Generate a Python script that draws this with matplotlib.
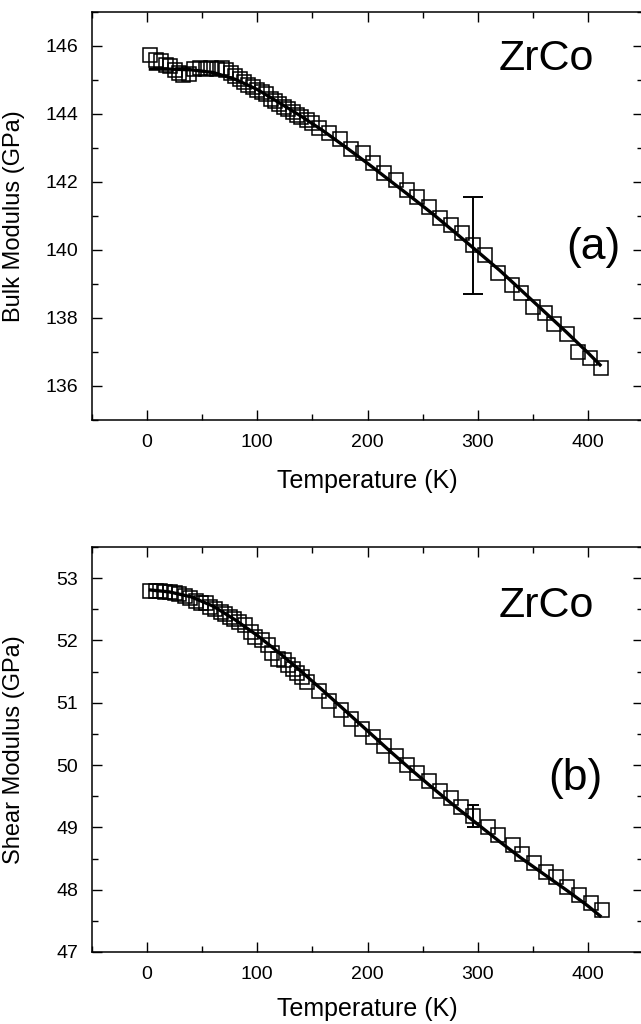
import matplotlib
matplotlib.use("Agg")
import matplotlib.pyplot as plt
from matplotlib.ticker import MultipleLocator

plt.rcParams['font.family'] = ['Liberation Sans', 'DejaVu Sans']

# (a) bulk modulus, measured points
T_bulk = [3, 8, 13, 17, 21, 25, 29, 33, 38, 43, 48, 53, 58, 63, 68, 72, 76, 80,
          84, 88, 92, 96, 100, 104, 108, 112, 116, 120, 124, 128, 132, 136, 140,
          145, 150, 156, 165, 175, 185, 196, 205, 215, 226, 236, 245, 256, 266,
          276, 286, 296, 307, 318, 331, 339, 350, 361, 369, 381, 391, 402, 412]
B_bulk = [145.75, 145.6, 145.55, 145.45, 145.4, 145.3, 145.2, 145.15, 145.18,
          145.32, 145.35, 145.33, 145.35, 145.33, 145.35, 145.3, 145.22, 145.12,
          145.02, 144.95, 144.85, 144.78, 144.72, 144.65, 144.58, 144.45, 144.38,
          144.3, 144.2, 144.15, 144.05, 143.98, 143.9, 143.82, 143.75, 143.6,
          143.45, 143.26, 142.96, 142.84, 142.55, 142.26, 142.06, 141.76, 141.57,
          141.27, 140.94, 140.74, 140.5, 140.15, 139.85, 139.33, 138.97, 138.74,
          138.33, 138.14, 137.82, 137.53, 137.0, 136.81, 136.52]

# (a) fit curve
T_bulk_fit = [3, 20, 40, 60, 80, 100, 120, 140, 160, 180, 200, 220, 240, 260,
              280, 300, 320, 340, 360, 380, 400, 411]
B_bulk_fit = [145.32, 145.32, 145.3, 145.22, 145.02, 144.72, 144.33, 143.93,
              143.5, 143.03, 142.55, 142.05, 141.55, 141.04, 140.5, 139.95,
              139.4, 138.8, 138.2, 137.6, 136.98, 136.62]

# (b) shear modulus, measured points
T_shear = [3, 8, 12, 16, 21, 25, 29, 34, 39, 44, 49, 53, 57, 62, 67, 71, 75, 79,
           83, 89, 94, 98, 104, 110, 113, 119, 124, 128, 132, 136, 141, 145,
           156, 165, 176, 185, 195, 205, 215, 226, 236, 245, 256, 266, 276, 285,
           296, 309, 318, 332, 340, 351, 362, 371, 381, 392, 403, 413]
G_shear = [52.79, 52.79, 52.79, 52.78, 52.77, 52.76, 52.74, 52.71, 52.68, 52.64,
           52.6, 52.6, 52.54, 52.5, 52.46, 52.42, 52.38, 52.34, 52.3, 52.25,
           52.14, 52.06, 52.0, 51.93, 51.8, 51.71, 51.68, 51.6, 51.55, 51.48,
           51.41, 51.33, 51.19, 51.03, 50.89, 50.74, 50.58, 50.45, 50.3, 50.15,
           50.0, 49.87, 49.74, 49.59, 49.47, 49.32, 49.18, 49.01, 48.87, 48.71,
           48.58, 48.43, 48.29, 48.2, 48.05, 47.91, 47.78, 47.67]

# (b) fit curve
T_shear_fit = [3, 20, 40, 60, 80, 100, 120, 140, 160, 180, 200, 220, 240, 260,
               280, 300, 320, 340, 360, 380, 400, 411]
G_shear_fit = [52.81, 52.78, 52.7, 52.55, 52.33, 52.08, 51.8, 51.5, 51.19,
               50.87, 50.55, 50.23, 49.92, 49.62, 49.33, 49.05, 48.77, 48.5,
               48.25, 48.0, 47.74, 47.58]

# representative error bars at room temperature
err_T = 296
err_bulk = (138.72, 140.13, 141.55)   # low, centre, high
err_shear = (49.01, 49.18, 49.36)

fig = plt.figure(figsize=(6.41, 10.24), dpi=100)
ax1 = fig.add_axes([92 / 641, 1 - 420 / 1024, 551 / 641, 408 / 1024])
ax2 = fig.add_axes([92 / 641, 1 - 952 / 1024, 551 / 641, 405 / 1024])

panels = [
    (ax1, T_bulk, B_bulk, T_bulk_fit, B_bulk_fit, err_bulk, (135, 147), 2, 1,
     "Bulk Modulus (GPa)", (362, 145.62), (405, 140.06), "(a)", 7, -0.12),
    (ax2, T_shear, G_shear, T_shear_fit, G_shear_fit, err_shear, (47, 53.5), 1, 0.5,
     "Shear Modulus (GPa)", (362, 52.56), (389, 49.79), "(b)", 4.5, -0.112),
]

for ax, t, v, tf, vf, err, ylim, ymaj, ymin, ylab, pos_name, pos_tag, tag, cap, xl_y in panels:
    ax.plot(t, v, ls='none', marker='s', ms=9.5, mfc='none', mec='black', mew=1.1)
    ax.plot(tf, vf, color='black', lw=2.4)
    lo, mid, hi = err
    ax.errorbar([err_T], [mid], yerr=[[mid - lo], [hi - mid]], fmt='none',
                ecolor='black', elinewidth=1.4, capsize=cap, capthick=1.4)

    ax.set_xlim(-50, 450)
    ax.set_ylim(*ylim)
    ax.xaxis.set_major_locator(MultipleLocator(100))
    ax.xaxis.set_minor_locator(MultipleLocator(50))
    ax.yaxis.set_major_locator(MultipleLocator(ymaj))
    ax.yaxis.set_minor_locator(MultipleLocator(ymin))
    ax.tick_params(which='both', direction='in', top=True, right=True, width=1.0)
    ax.tick_params(which='major', length=7)
    ax.tick_params(which='minor', length=4)
    ax.tick_params(axis='x', labelsize=14, pad=10)
    ax.tick_params(axis='y', labelsize=14, pad=10)
    for sp in ax.spines.values():
        sp.set_linewidth(1.1)

    ax.set_xlabel("Temperature (K)", fontsize=18)
    ax.set_ylabel(ylab, fontsize=17)
    ax.xaxis.set_label_coords(0.5, xl_y)
    ax.yaxis.set_label_coords(-0.122, 0.5)

    ax.text(*pos_name, "ZrCo", fontsize=31, ha='center', va='center')
    ax.text(*pos_tag, tag, fontsize=32, ha='center', va='center')

fig.savefig("out.png", dpi=100)
